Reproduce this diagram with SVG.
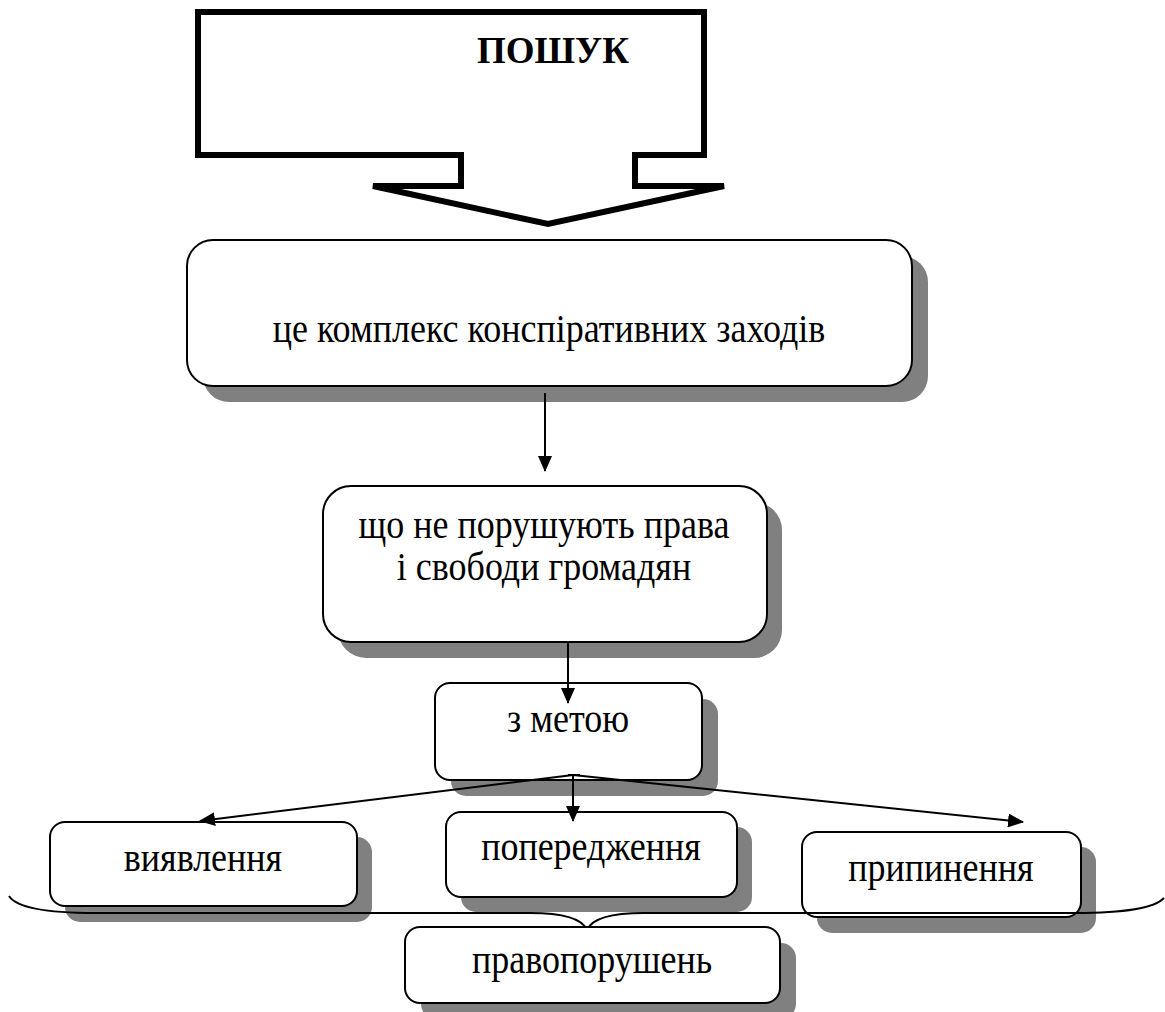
<svg xmlns="http://www.w3.org/2000/svg" width="1165" height="1012" viewBox="0 0 1165 1012">
<style>
.sh{fill:#808080;stroke:none}
.bx{fill:#fff;stroke:#000;stroke-width:2}
.t{font-family:"Liberation Serif","Times New Roman",serif;font-size:36px;fill:#000;text-anchor:middle}
.c{stroke:#000;stroke-width:2;fill:none}
</style>
<defs>
<marker id="ah" viewBox="0 0 16 14" refX="15" refY="7" markerWidth="16" markerHeight="14" markerUnits="userSpaceOnUse" orient="auto">
<path d="M0,0 L16,7 L0,14 Z" fill="#000"/>
</marker>
</defs>
<rect width="1165" height="1012" fill="#fff"/>
<g id="poshuk">
<path d="M198,12 H704 V155 H635 V186 H724 L548,224 L373,186 H461 V155 H198 Z" fill="#fff" stroke="#000" stroke-width="6" stroke-linejoin="miter"/>
<text class="t" x="553" y="63" style="font-weight:bold;font-size:37px">ПОШУК</text>
</g>
<g id="box1">
<rect class="sh" x="203" y="256" width="725" height="146" rx="26"/>
<rect class="bx" x="187" y="240" width="725" height="146" rx="26"/>
<text class="t" transform="translate(549,342) scale(1,1.12)">це комплекс конспіративних заходів</text>
</g>
<g id="box2">
<rect class="sh" x="338" y="502" width="444" height="156" rx="28"/>
<rect class="bx" x="323" y="486" width="444" height="156" rx="28"/>
<text class="t" transform="translate(544,538) scale(1,1.12)">що не порушують права</text>
<text class="t" transform="translate(544,580) scale(1,1.12)">і свободи громадян</text>
</g>
<g id="box3">
<rect class="sh" x="451" y="699" width="267" height="97" rx="15"/>
<rect class="bx" x="435" y="683" width="267" height="97" rx="15"/>
<text class="t" transform="translate(568,732) scale(1,1.12)">з метою</text>
</g>
<g id="viyav">
<rect class="sh" x="65" y="837" width="307" height="85" rx="15"/>
<rect class="bx" x="50" y="822" width="307" height="84" rx="15"/>
<text class="t" transform="translate(203,871) scale(1,1.15)">виявлення</text>
</g>
<g id="poper">
<rect class="sh" x="461" y="827" width="291" height="85" rx="15"/>
<rect class="bx" x="446" y="812" width="291" height="85" rx="15"/>
<text class="t" transform="translate(591,860) scale(1,1.15)">попередження</text>
</g>
<g id="prypyn">
<rect class="sh" x="817" y="847" width="279" height="86" rx="15"/>
<rect class="bx" x="802" y="832" width="279" height="85" rx="15"/>
<text class="t" transform="translate(941,881) scale(1,1.15)">припинення</text>
</g>
<g id="brace">
<path class="c" d="M9,896 Q20,913 95,913 H530 Q580,913 587,930 Q594,913 644,913 H1075 Q1150,913 1164,898"/>
</g>
<g id="pravop">
<rect class="sh" x="421" y="943" width="375" height="76" rx="15"/>
<rect class="bx" x="405" y="927" width="375" height="76" rx="15"/>
<text class="t" transform="translate(592,973) scale(1,1.15)">правопорушень</text>
</g>
<g id="connectors">
<line class="c" x1="545" y1="393" x2="545" y2="471" marker-end="url(#ah)"/>
<line class="c" x1="568" y1="642" x2="568" y2="703" marker-end="url(#ah)"/>
<line class="c" x1="568" y1="775" x2="580" y2="775"/>
<line class="c" x1="573" y1="775" x2="200" y2="821" marker-end="url(#ah)"/>
<line class="c" x1="573" y1="775" x2="573" y2="821" marker-end="url(#ah)"/>
<line class="c" x1="573" y1="775" x2="1023" y2="822" marker-end="url(#ah)"/>
</g>
</svg>
